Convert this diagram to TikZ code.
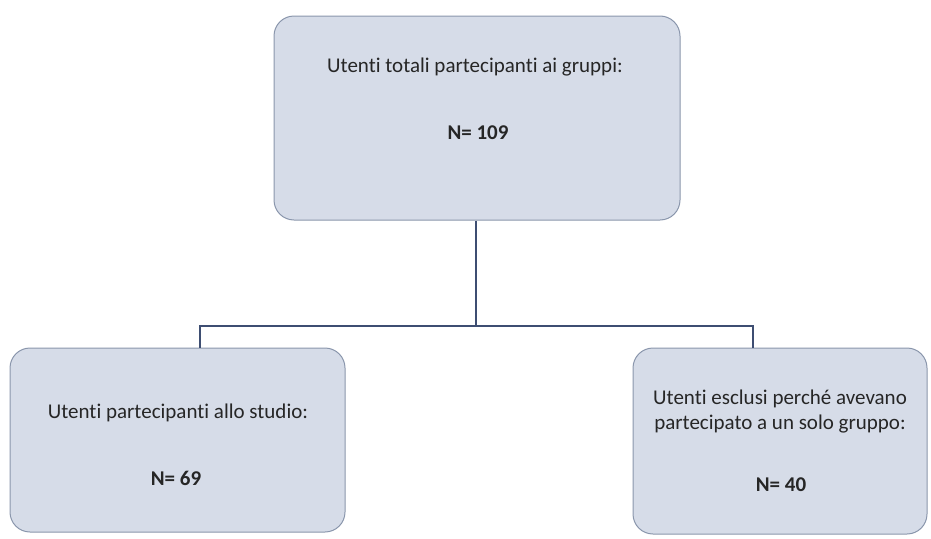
\documentclass[tikz,border=0pt]{standalone}
\usepackage{fontspec}
\setmainfont[Ligatures=NoCommon]{Carlito}
\definecolor{boxfill}{HTML}{D6DCE8}
\definecolor{boxline}{HTML}{8A96AC}
\definecolor{conn}{HTML}{3E4E72}
\begin{document}
\begin{tikzpicture}[x=1pt,y=-1pt,
  box/.style={draw=boxline,fill=boxfill,line width=1pt,rounded corners=20pt,inner sep=0pt},
  txt/.style={font=\fontsize{21}{25}\selectfont,text=black!85,align=center,inner sep=0pt},
  num/.style={font=\fontsize{21}{25}\selectfont\bfseries,text=black!85,inner sep=0pt},
  conline/.style={draw=conn,line width=1.3pt}]
\useasboundingbox (0,0) rectangle (931,538);
\node[box,minimum width=406pt,minimum height=204pt] (top) at (477,118) {};
\node[box,minimum width=335pt,minimum height=184pt] (left) at (177.5,440) {};
\node[box,minimum width=294pt,minimum height=186pt] (right) at (780,441) {};
\node[txt] (t1) at (475,67) {Utenti totali partecipanti ai gruppi:};
\node[num] (t2) at (478,133) {N= 109};
\node[txt] (l1) at (178,413) {Utenti partecipanti allo studio:};
\node[num] (l2) at (176,478) {N= 69};
\node[txt] (r1) at (780,412) {Utenti esclusi perché avevano\\partecipato a un solo gruppo:};
\node[num] (r2) at (781,485) {N= 40};
\coordinate (j) at (476,326);
\coordinate (lx) at (200,0);
\coordinate (rx) at (753,0);
\draw[conline] (top.south -| j) -- (j);
\draw[conline] (j) -| (left.north -| lx);
\draw[conline] (j) -| (right.north -| rx);
\end{tikzpicture}
\end{document}
